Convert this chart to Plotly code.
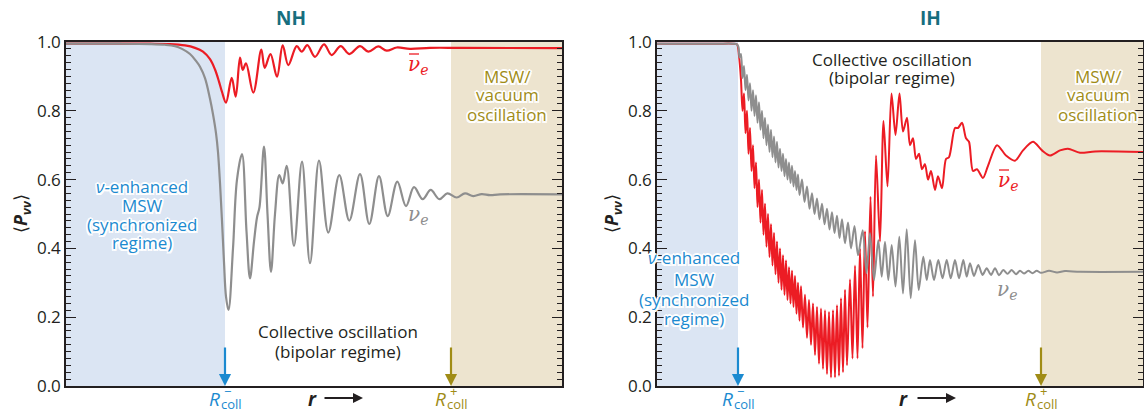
import plotly.graph_objects as go

# ---------------- data (r in arbitrary units, P = survival probability) ----------------
# NH panel
nh_nue_r = [0, 54, 84, 99, 109, 116, 124, 130, 134, 139, 144, 147, 150, 152, 154, 156, 158, 160, 162.5, 167,
            171, 176, 180.5, 184, 188, 191, 193.5, 198, 201.5, 205, 209, 213.3, 216.7, 220.7, 228, 236, 244, 253,
            262.3, 273.3, 283.3, 294, 303.3, 313, 321.7, 331.3, 340, 348, 356.7, 364.7, 373.3, 381.3, 390.7, 399,
            407.3, 415.7, 424, 434, 496]
nh_nue_p = [0.995, 0.995, 0.994, 0.992, 0.988, 0.980, 0.965, 0.945, 0.928, 0.895, 0.835, 0.79, 0.735, 0.68, 0.59,
            0.48, 0.36, 0.26, 0.221, 0.40, 0.60, 0.674, 0.45, 0.313, 0.42, 0.49, 0.52, 0.696, 0.50, 0.332, 0.50,
            0.613, 0.589, 0.640, 0.407, 0.652, 0.357, 0.655, 0.446, 0.613, 0.481, 0.616, 0.471, 0.610, 0.494, 0.594,
            0.523, 0.578, 0.543, 0.570, 0.543, 0.560, 0.548, 0.560, 0.552, 0.558, 0.555, 0.557, 0.557]

nh_anue_r = [0, 54, 84, 104, 119, 129, 137, 144, 149, 153, 156, 160, 165.7, 169.7, 174, 176.7, 180, 187.3, 195.3,
             198.7, 204.5, 211, 216.7, 222.3, 230.7, 235.7, 241.3, 249, 258, 265.7, 274.7, 283.3, 294, 302.3, 312.3,
             320.7, 330.7, 344, 364, 394, 496]
nh_anue_p = [0.995, 0.995, 0.995, 0.994, 0.99, 0.983, 0.972, 0.95, 0.92, 0.885, 0.855, 0.824, 0.896, 0.841, 0.955,
             0.919, 0.938, 0.853, 0.978, 0.925, 0.965, 0.899, 0.99, 0.933, 0.988, 0.972, 0.991, 0.957, 0.993, 0.962,
             0.988, 0.965, 0.988, 0.972, 0.987, 0.975, 0.984, 0.980, 0.983, 0.983, 0.982]

# IH panel
ih_nue_r = [0, 60, 76, 80, 81.5, 82.5, 84, 85.5, 87, 88.5, 90, 91.5, 93, 94.5, 96, 97.5, 99, 100.5, 102, 103.5,
            105, 106.5, 108, 109.5, 111, 112.5, 114, 115.5, 117, 118.5, 120, 121.5, 123, 124.5, 126, 127.5, 129,
            130.5, 132, 133.5, 135, 136.5, 138, 139.5, 141, 142.5, 145, 147.5, 150, 152.5, 155, 157.5, 160, 162.5,
            165, 167.5, 170, 172.5, 175, 177.5, 180, 182.5, 185, 188, 191, 194, 197.5, 201, 205.7, 209.5, 213, 217,
            221.3, 224.7, 228, 231.3, 234.7, 238.5, 242.3, 246, 249.7, 253.7, 258, 261.7, 266.3, 269.7, 273, 277,
            281.3, 285.5, 289.7, 293.7, 298, 302, 306.3, 309.7, 313, 317, 321.3, 325.5, 329.7, 334, 338, 342, 346.3,
            350.5, 354.7, 359, 363, 367, 371.3, 375.5, 379.7, 384, 392, 400, 408, 423, 486]
ih_nue_p = [0.995, 0.995, 0.995, 0.993, 0.985, 0.955, 0.965, 0.895, 0.93, 0.86, 0.905, 0.83, 0.88, 0.80, 0.86,
            0.785, 0.845, 0.765, 0.825, 0.745, 0.80, 0.72, 0.78, 0.70, 0.76, 0.68, 0.745, 0.665, 0.725, 0.65, 0.71,
            0.635, 0.69, 0.625, 0.675, 0.61, 0.66, 0.60, 0.65, 0.59, 0.64, 0.58, 0.625, 0.57, 0.615, 0.555, 0.60,
            0.535, 0.58, 0.515, 0.56, 0.50, 0.545, 0.485, 0.53, 0.47, 0.515, 0.455, 0.505, 0.445, 0.495, 0.43, 0.485,
            0.415, 0.475, 0.40, 0.465, 0.38, 0.453, 0.328, 0.444, 0.308, 0.424, 0.318, 0.419, 0.308, 0.41, 0.289,
            0.434, 0.269, 0.456, 0.255, 0.424, 0.279, 0.376, 0.308, 0.366, 0.308, 0.366, 0.313, 0.366, 0.313, 0.366,
            0.313, 0.366, 0.318, 0.357, 0.320, 0.352, 0.323, 0.342, 0.323, 0.342, 0.322, 0.337, 0.326, 0.337, 0.325,
            0.335, 0.327, 0.335, 0.328, 0.335, 0.329, 0.335, 0.330, 0.334, 0.332, 0.332]

ih_anue_r = [0, 60, 76, 80, 82, 84, 85.5, 87, 88.5, 90, 91.5, 93, 94.5, 96, 97.5, 99, 100.5, 102, 103.5, 105, 106.5,
             108, 109.5, 111, 112.5, 114, 115.5, 117, 118.5, 120, 121.5, 123, 124.5, 126, 127.5, 129, 130.5, 132,
             133.5, 135, 136.5, 138, 139.5, 141, 142.5, 144, 146, 148, 150, 152, 154, 156, 158, 160, 162, 164, 166,
             168, 170, 172, 174, 176, 178, 180, 182, 184, 186, 188, 190, 193, 195.5, 198, 200.5, 203, 205.5, 208,
             210.5, 213.5, 216, 219, 223, 226.5, 230.5, 234.5, 238.5, 242.5, 246, 250, 253, 256, 259, 262, 265, 268,
             271, 274, 278, 281, 285, 289, 292, 298, 301, 305, 309, 312, 316, 320, 326, 331, 340, 349, 358, 366, 376,
             385, 393, 403, 411, 423, 438, 486]
ih_anue_p = [0.995, 0.995, 0.995, 0.993, 0.96, 0.89, 0.80, 0.85, 0.735, 0.80, 0.675, 0.75, 0.625, 0.70, 0.575, 0.65,
             0.52, 0.60, 0.475, 0.57, 0.44, 0.53, 0.405, 0.50, 0.375, 0.47, 0.35, 0.445, 0.325, 0.42, 0.30, 0.40,
             0.28, 0.38, 0.265, 0.365, 0.25, 0.345, 0.24, 0.335, 0.23, 0.32, 0.21, 0.30, 0.19, 0.29, 0.17, 0.265,
             0.14, 0.25, 0.12, 0.24, 0.09, 0.23, 0.065, 0.225, 0.05, 0.22, 0.035, 0.215, 0.025, 0.22, 0.025, 0.235,
             0.03, 0.255, 0.04, 0.28, 0.06, 0.31, 0.08, 0.35, 0.08, 0.40, 0.11, 0.45, 0.17, 0.55, 0.26, 0.67, 0.42,
             0.77, 0.58, 0.85, 0.73, 0.85, 0.74, 0.78, 0.70, 0.72, 0.66, 0.675, 0.63, 0.645, 0.60, 0.625, 0.57, 0.61,
             0.575, 0.66, 0.665, 0.75, 0.75, 0.765, 0.72, 0.71, 0.625, 0.63, 0.605, 0.64, 0.70, 0.67, 0.655, 0.685,
             0.71, 0.685, 0.67, 0.685, 0.69, 0.678, 0.682, 0.680]

# regime boundaries and axis extents (r units)
nh_r_max, nh_r_minus, nh_r_plus = 496, 159, 385
ih_r_max, ih_r_minus, ih_r_plus = 486, 81, 384

y_tickvals = [0.0, 0.2, 0.4, 0.6, 0.8, 1.0]
y_ticktext = ["0.0", "0.2", "0.4", "0.6", "0.8", "1.0"]

# ---------------- styling ----------------
W, H = 1144, 413
RED = "#ec1c24"
GRAY = "#8e8e8e"
BLUE_TXT = "#1b8ad0"
BLUE_BG = "#dbe5f3"
TAN_BG = "#ede4cf"
OLIVE = "#a08c16"
TEAL = "#176e7e"
INK = "#231f20"
FONT = "Open Sans"
SERIF = "DejaVu Serif"
HALO = ("-1.5px -1.5px 0 #fff, 1.5px -1.5px 0 #fff, -1.5px 1.5px 0 #fff, 1.5px 1.5px 0 #fff, "
        "0 1.6px 0 #fff, 0 -1.6px 0 #fff, 1.6px 0 0 #fff, -1.6px 0 0 #fff")

fig = go.Figure()
fig.add_trace(go.Scatter(x=nh_anue_r, y=nh_anue_p, mode="lines", line=dict(color=RED, width=2.2, shape="spline", smoothing=1.0),
                         xaxis="x", yaxis="y", showlegend=False, hoverinfo="skip"))
fig.add_trace(go.Scatter(x=nh_nue_r, y=nh_nue_p, mode="lines", line=dict(color=GRAY, width=2.2, shape="spline", smoothing=1.0),
                         xaxis="x", yaxis="y", showlegend=False, hoverinfo="skip"))
fig.add_trace(go.Scatter(x=ih_anue_r, y=ih_anue_p, mode="lines", line=dict(color=RED, width=2.0, shape="spline", smoothing=0.8),
                         xaxis="x2", yaxis="y2", showlegend=False, hoverinfo="skip"))
fig.add_trace(go.Scatter(x=ih_nue_r, y=ih_nue_p, mode="lines", line=dict(color=GRAY, width=2.0, shape="spline", smoothing=0.8),
                         xaxis="x2", yaxis="y2", showlegend=False, hoverinfo="skip"))

y_dom = [1 - 386 / H, 1 - 42 / H]
xaxis_common = dict(showline=True, linecolor=INK, linewidth=1.6, mirror=True, ticks="", showticklabels=False,
                    showgrid=False, zeroline=False, fixedrange=True, automargin=False)
yaxis_common = dict(range=[0, 1.0], tickvals=y_tickvals, ticktext=y_ticktext, ticks="inside", ticklen=10,
                    tickwidth=1.4, tickcolor=INK, showline=True, linecolor=INK, linewidth=1.5, mirror="ticks",
                    showgrid=False, zeroline=False, domain=y_dom, automargin=False,
                    tickfont=dict(family=FONT, size=17, color=INK),
                    minor=dict(ticks="inside", ticklen=5, tickwidth=1, tickcolor=INK, dtick=0.02))

fig.update_layout(
    width=W, height=H, margin=dict(l=0, r=0, t=0, b=0, pad=0, autoexpand=False),
    paper_bgcolor="white", plot_bgcolor="white", showlegend=False,
    xaxis=dict(domain=[66 / W, 562 / W], range=[0, nh_r_max], anchor="y", **xaxis_common),
    yaxis=dict(anchor="x", **yaxis_common),
    xaxis2=dict(domain=[657 / W, 1143 / W], range=[0, ih_r_max], anchor="y2", **xaxis_common),
    yaxis2=dict(anchor="x2", **yaxis_common),
)

# shaded regimes
for xr, yr, rm, rp, rmax in (("x", "y", nh_r_minus, nh_r_plus, nh_r_max), ("x2", "y2", ih_r_minus, ih_r_plus, ih_r_max)):
    fig.add_shape(type="rect", xref=xr, yref=yr, x0=0, x1=rm, y0=0, y1=1, fillcolor=BLUE_BG, line_width=0, layer="below")
    fig.add_shape(type="rect", xref=xr, yref=yr, x0=rp, x1=rmax, y0=0, y1=1, fillcolor=TAN_BG, line_width=0, layer="below")


def txt(px, py, text, size=17, color=INK, family=FONT, halo=False, angle=0, pad=1):
    f = dict(family=family, size=size, color=color)
    if halo:
        f["shadow"] = HALO
    fig.add_annotation(x=px / W, y=1 - py / H, xref="paper", yref="paper", text=text, showarrow=False,
                       xanchor="center", yanchor="middle", font=f, textangle=angle, borderpad=pad)


def bar(px0, px1, py, color):
    fig.add_shape(type="line", xref="paper", yref="paper", x0=px0 / W, x1=px1 / W, y0=1 - py / H, y1=1 - py / H,
                  line=dict(color=color, width=1.3))


# panel titles
txt(291, 18, "<b>NH</b>", 19, TEAL)
txt(930, 18, "<b>IH</b>", 19, TEAL)

# y-axis titles
ytitle = "⟨<b><i>P</i></b><sub><b><i>νν</i></b></sub>⟩"
txt(21, 214, ytitle, 18, INK, angle=-90)
txt(612, 214, ytitle, 18, INK, angle=-90)

# regime labels
for cx, ys in ((142, (186, 205, 224, 242)), (694, (257, 279, 299, 318))):
    for line, yy in zip(("<i>ν</i>-enhanced", "MSW", "(synchronized", "regime)"), ys):
        txt(cx, yy, line, 17, BLUE_TXT, halo=True)
for cx, ys in ((338, (331, 351)), (892, (60, 78))):
    for line, yy in zip(("Collective oscillation", "(bipolar regime)"), ys):
        txt(cx, yy, line, 17, INK)
for cx, ys in ((507, (76, 95, 114)), (1098, (77, 95, 114))):
    for line, yy in zip(("MSW/", "vacuum", "oscillation"), ys):
        txt(cx, yy, line, 17, OLIVE, halo=True)

# curve labels (anti-neutrino bar drawn as a short rule above the nu)
for cx, cy, col, anti in ((418, 65, RED, True), (418, 215, GRAY, False), (1008, 181, RED, True), (1007, 290, GRAY, False)):
    txt(cx, cy, "<i>ν</i><sub><i>e</i></sub>", 20, col, SERIF)
    if anti:
        bar(cx - 9, cx + 1, cy - 11, col)

# boundary arrows and R labels
for xr, yr, rm, rp, pm, pp in (("x", "y", nh_r_minus, nh_r_plus, 225, 451), ("x2", "y2", ih_r_minus, ih_r_plus, 738, 1041)):
    for r0, col in ((rm, BLUE_TXT), (rp, OLIVE)):
        fig.add_annotation(x=r0, y=0, xref=xr, yref=yr, ax=0, ay=-40, text="", showarrow=True,
                           arrowhead=2, arrowsize=1.1, arrowwidth=2.2, arrowcolor=col, standoff=0)
    for p0, col, sup in ((pm, BLUE_TXT, "−"), (pp, OLIVE, "+")):
        txt(p0 - 11, 399, "<i>R</i>", 19, col)
        txt(p0 + 6, 403.5, "coll", 13, col, pad=0)
        txt(p0 + 2, 391, sup, 13, col)

# r arrows
for rx, ax0, ax1 in ((312, 323, 363), (903, 916, 956)):
    txt(rx, 399, "<b><i>r</i></b>", 19, INK)
    fig.add_annotation(x=ax1 / W, y=1 - 398 / H, xref="paper", yref="paper", ax=-(ax1 - ax0), ay=0, text="",
                       showarrow=True, arrowhead=2, arrowsize=1.0, arrowwidth=2, arrowcolor=INK, standoff=0)

fig.write_html("out.html", config={"responsive": False, "displayModeBar": False},
               post_script="document.body.style.margin='0';document.body.style.overflow='hidden';")
